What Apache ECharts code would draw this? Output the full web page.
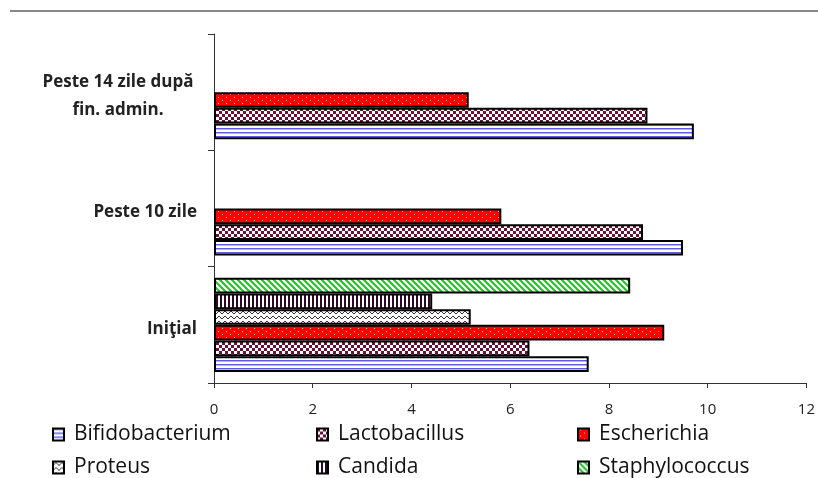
<!DOCTYPE html>
<html><head><meta charset="utf-8">
<script src="https://cdn.jsdelivr.net/npm/echarts@6/dist/echarts.min.js"></script>
<style>html,body{margin:0;padding:0;background:#fff}#c{width:818px;height:478px}</style>
</head><body><div id="c"></div>
<script>
const categories = ['Iniţial', 'Peste 10 zile', 'Peste 14 zile după fin. admin.'];
const seriesNames = ['Bifidobacterium', 'Lactobacillus', 'Escherichia', 'Proteus', 'Candida', 'Staphylococcus'];
const bifidobacterium = [7.59, 9.5, 9.72];
const lactobacillus = [6.39, 8.69, 8.78];
const escherichia = [9.12, 5.82, 5.16];
const proteus = [5.2, null, null];
const candida = [4.42, null, null];
const staphylococcus = [8.43, null, null];
const xTicks = [0, 2, 4, 6, 8, 10, 12];

function pat(w, h, draw) {
  const c = document.createElement('canvas');
  c.width = w; c.height = h;
  const g = c.getContext('2d');
  draw(g, w, h);
  return { image: c, repeat: 'repeat' };
}
const fills = [
  pat(4, 4, (g) => { g.fillStyle = '#fff'; g.fillRect(0,0,4,4); g.fillStyle = '#5b5be6'; g.fillRect(0,0,4,1); g.fillStyle = '#b4b4ee'; g.fillRect(0,1,4,1); }),
  pat(6, 6, (g) => { g.fillStyle = '#fff'; g.fillRect(0,0,6,6); g.fillStyle = '#6a1236'; g.fillRect(0,0,3,3); g.fillRect(3,3,3,3); }),
  pat(8, 6, (g) => { g.fillStyle = '#ff0000'; g.fillRect(0,0,8,6); g.fillStyle = '#ffc8c8'; g.fillRect(2,1,1,1); g.fillRect(6,4,1,1); }),
  pat(6, 5, (g) => { g.fillStyle = '#fff'; g.fillRect(0,0,6,5); g.strokeStyle = '#333'; g.lineWidth = 1; g.beginPath(); g.moveTo(0,4); g.lineTo(3,1); g.lineTo(6,4); g.stroke(); }),
  pat(4, 4, (g) => { g.fillStyle = '#fff'; g.fillRect(0,0,4,4); g.fillStyle = '#2a0a22'; g.fillRect(0,0,2,4); }),
  pat(6, 6, (g) => { g.fillStyle = '#fff'; g.fillRect(0,0,6,6); g.strokeStyle = '#22c022'; g.lineWidth = 2; g.beginPath(); g.moveTo(-1,-1); g.lineTo(7,7); g.moveTo(-4,2); g.lineTo(2,8); g.moveTo(2,-4); g.lineTo(8,2); g.stroke(); })
];
const data = [bifidobacterium, lactobacillus, escherichia, proteus, candida, staphylococcus];

const chart = echarts.init(document.getElementById('c'), null, { renderer: 'canvas' });
const legendPos = [[47, 419], [311, 419], [572, 419], [47, 452], [311, 452], [572, 452]];
const order = [5, 4, 3, 2, 1, 0];
chart.setOption({
  animation: false,
  backgroundColor: '#fff',
  grid: { left: 214, right: 6, top: 34, bottom: 95 },
  xAxis: {
    type: 'value', min: 0, max: 12, interval: 2,
    splitLine: { show: false },
    axisLine: { show: true, lineStyle: { color: '#333', width: 1 } },
    axisTick: { show: true, length: 5, lineStyle: { color: '#333' } },
    axisLabel: { margin: 19, fontFamily: 'Open Sans', fontSize: 15, color: '#222',
      formatter: (v) => xTicks.includes(v) ? String(v) : '' }
  },
  yAxis: {
    type: 'category', data: categories,
    axisLine: { show: true, lineStyle: { color: '#333', width: 1 } },
    axisTick: { show: true, length: 6, lineStyle: { color: '#333' } },
    axisLabel: {
      margin: 17, fontFamily: 'Open Sans', fontSize: 17, fontWeight: 'bold', color: '#222',
      padding: [8, 0, 0, 0],
      formatter: (v) => v.indexOf('după') >= 0 ? '{a|Peste 14 zile după}\n{a|fin. admin.}' : v,
      rich: { a: { width: 158, align: 'center', fontFamily: 'Open Sans', fontSize: 17, fontWeight: 'bold', color: '#222', lineHeight: 28 } }
    }
  },
  legend: legendPos.map((p, i) => ({
    data: [seriesNames[i]], left: p[0], top: p[1], itemWidth: 11, itemHeight: 12, itemGap: 0,
    selectedMode: false, icon: 'rect',
    textStyle: { fontFamily: 'Open Sans', fontSize: 21, color: '#111', padding: [0, 0, 0, 5] }
  })),
  series: order.map((i) => ({
    name: seriesNames[i], type: 'bar', data: data[i],
    barGap: '0%', barCategoryGap: '19%',
    itemStyle: { color: fills[i], borderColor: '#000', borderWidth: 2 }
  })),
  graphic: [{ type: 'line', shape: { x1: 10, y1: 11, x2: 818, y2: 11 }, style: { stroke: '#888', lineWidth: 2 } }]
});
</script></body></html>
